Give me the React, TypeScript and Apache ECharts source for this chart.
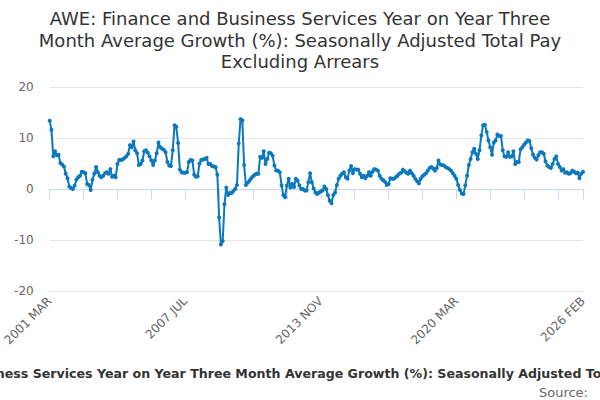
import React, { useEffect, useRef } from "react";
import * as echarts from "echarts";

const MONTHS = ["JAN", "FEB", "MAR", "APR", "MAY", "JUN", "JUL", "AUG", "SEP", "OCT", "NOV", "DEC"];

const growth: number[] = [
  13.4, 11.6, 6.4, 7.4, 6.6, 6.7, 5.1, 4.8, 4.4, 3.0,
  2.1, 0.5, 0.2, 0.0, 0.7, 1.8, 2.3, 2.6, 3.4, 3.3,
  3.1, 1.0, 0.8, -0.2, 1.8, 3.0, 4.3, 3.3, 2.6, 2.3,
  2.6, 3.1, 3.3, 3.0, 3.9, 2.4, 2.6, 2.3, 4.9, 5.7,
  5.7, 5.8, 6.1, 6.4, 6.9, 8.6, 8.2, 9.3, 7.6, 7.0,
  4.7, 4.9, 5.6, 7.4, 7.6, 7.1, 6.4, 5.6, 4.7, 5.6,
  7.0, 9.1, 8.2, 7.9, 7.7, 7.2, 5.3, 4.6, 4.5, 7.6,
  12.5, 12.2, 9.0, 3.8, 3.3, 3.2, 3.2, 3.3, 5.3, 5.7,
  5.6, 2.8, 2.4, 2.5, 5.0, 5.7, 5.8, 5.9, 6.1, 4.9,
  4.9, 4.5, 4.4, 4.3, 2.8, -5.6, -10.9, -10.2, -3.0, 0.3,
  -1.2, -0.8, -0.8, -0.4, 0.0, 0.8, 8.9, 13.7, 13.5, 4.7,
  0.8, 1.2, 1.6, 2.1, 2.5, 2.8, 3.0, 3.0, 6.3, 6.1,
  7.4, 4.9, 5.9, 7.1, 7.0, 6.5, 4.6, 3.6, 3.6, 3.3,
  0.7, -1.2, -1.6, 0.7, 2.0, 0.3, 1.0, 0.4, 2.0, 1.6,
  0.7, 0.0, 0.0, -0.3, -0.3, 1.3, 3.1, 1.3, 0.1, -0.7,
  -1.0, -0.7, -0.5, -0.3, 0.5, 0.0, -1.2, -2.3, -2.8, -1.2,
  -0.7, 0.8, 2.0, 2.6, 3.0, 3.3, 2.3, 2.0, 3.6, 4.5,
  3.1, 3.9, 3.8, 3.8, 3.0, 2.3, 2.6, 2.1, 2.6, 3.3,
  2.6, 3.4, 3.9, 3.8, 3.6, 2.6, 2.0, 1.7, 1.4, 0.8,
  1.0, 2.1, 2.0, 2.0, 2.3, 2.6, 3.0, 3.2, 3.8, 3.5,
  3.2, 3.0, 3.6, 3.1, 2.6, 2.0, 1.5, 1.1, 2.0, 2.5,
  2.8, 3.1, 3.6, 4.1, 4.3, 4.0, 3.6, 4.1, 5.6, 4.8,
  4.7, 4.6, 4.3, 4.1, 3.9, 3.6, 3.1, 2.6, 2.0, 0.8,
  -0.2, -0.9, -1.0, 0.7, 2.6, 4.7, 5.9, 7.2, 7.9, 6.9,
  5.9, 7.6, 10.5, 12.5, 12.6, 11.2, 9.5, 8.2, 6.7, 9.1,
  9.5, 10.7, 10.4, 10.4, 7.6, 6.4, 6.3, 7.2, 6.3, 6.4,
  7.4, 4.9, 5.3, 5.3, 7.8, 8.2, 8.7, 9.1, 9.5, 9.4,
  8.0, 6.7, 6.1, 5.8, 6.6, 7.2, 7.2, 6.9, 5.4, 4.6,
  4.3, 4.1, 4.9, 5.9, 6.4, 4.9, 4.3, 3.6, 3.9, 3.2,
  3.3, 3.0, 3.1, 3.6, 3.4, 3.1, 3.2, 2.1, 3.0, 3.4,
];

const START_YEAR = 2001;
const START_MONTH = 2; // March
const categories: string[] = growth.map((_, i) => {
  const t = START_MONTH + i;
  return `${START_YEAR + Math.floor(t / 12)} ${MONTHS[t % 12]}`;
});

const yTicks = { min: -20, max: 20, interval: 10 };

const TITLE =
  "AWE: Finance and Business Services Year on Year Three\nMonth Average Growth (%): Seasonally Adjusted Total Pay\nExcluding Arrears";
const SUBTITLE =
  "AWE: Finance and Business Services Year on Year Three Month Average Growth (%): Seasonally Adjusted Total Pay Excluding Arrears";
const SOURCE = "Source:";

const FONT = "DejaVu Sans";

export default function App() {
  const ref = useRef<HTMLDivElement>(null);
  useEffect(() => {
    document.body.style.margin = "0";
    if (!ref.current) return;
    const chart = echarts.init(ref.current, undefined, { renderer: "svg" });
    const last = categories.length - 1;
    chart.setOption({
      animation: false,
      textStyle: { fontFamily: FONT },
      title: {
        text: TITLE,
        left: "center",
        top: 3,
        textStyle: { fontFamily: FONT, fontSize: 18, fontWeight: "normal", color: "#333333", lineHeight: 21.5 },
      },
      grid: { left: 44, right: 17, top: 87, bottom: 109, containLabel: false },
      xAxis: {
        type: "category",
        data: categories,
        boundaryGap: false,
        axisLine: { lineStyle: { color: "#ccd6eb", width: 1 } },
        axisTick: {
          interval: (i: number) => i % 19 === 0 || i === last,
          length: 10,
          lineStyle: { color: "#ccd6eb" },
        },
        axisLabel: {
          interval: (i: number) => i % 76 === 0 || i === last,
          rotate: 45,
          color: "#666666",
          fontSize: 12,
          fontFamily: FONT,
          margin: 8,
        },
        splitLine: { show: false },
      },
      yAxis: {
        type: "value",
        min: yTicks.min,
        max: yTicks.max,
        interval: yTicks.interval,
        axisLine: { show: false },
        axisTick: { show: false },
        axisLabel: { color: "#666666", fontSize: 12, fontFamily: FONT, margin: 16 },
        splitLine: { lineStyle: { color: "#e6e6e6", width: 1 } },
      },
      series: [
        {
          type: "line",
          data: growth,
          symbol: "circle",
          symbolSize: 4,
          showAllSymbol: true,
          lineStyle: { color: "#0b78be", width: 2 },
          itemStyle: { color: "#0b78be" },
        },
      ],
      graphic: [
        {
          type: "text",
          x: 307,
          y: 373,
          style: {
            text: SUBTITLE,
            fill: "#333333",
            font: `bold 12.6px "${FONT}"`,
            textAlign: "center",
            textVerticalAlign: "middle",
          },
        },
        {
          type: "text",
          x: 588,
          y: 392,
          style: {
            text: SOURCE,
            fill: "#666666",
            font: `13px "${FONT}"`,
            textAlign: "right",
            textVerticalAlign: "middle",
          },
        },
      ],
    });
    return () => chart.dispose();
  }, []);
  return <div ref={ref} style={{ width: 600, height: 400 }} />;
}
